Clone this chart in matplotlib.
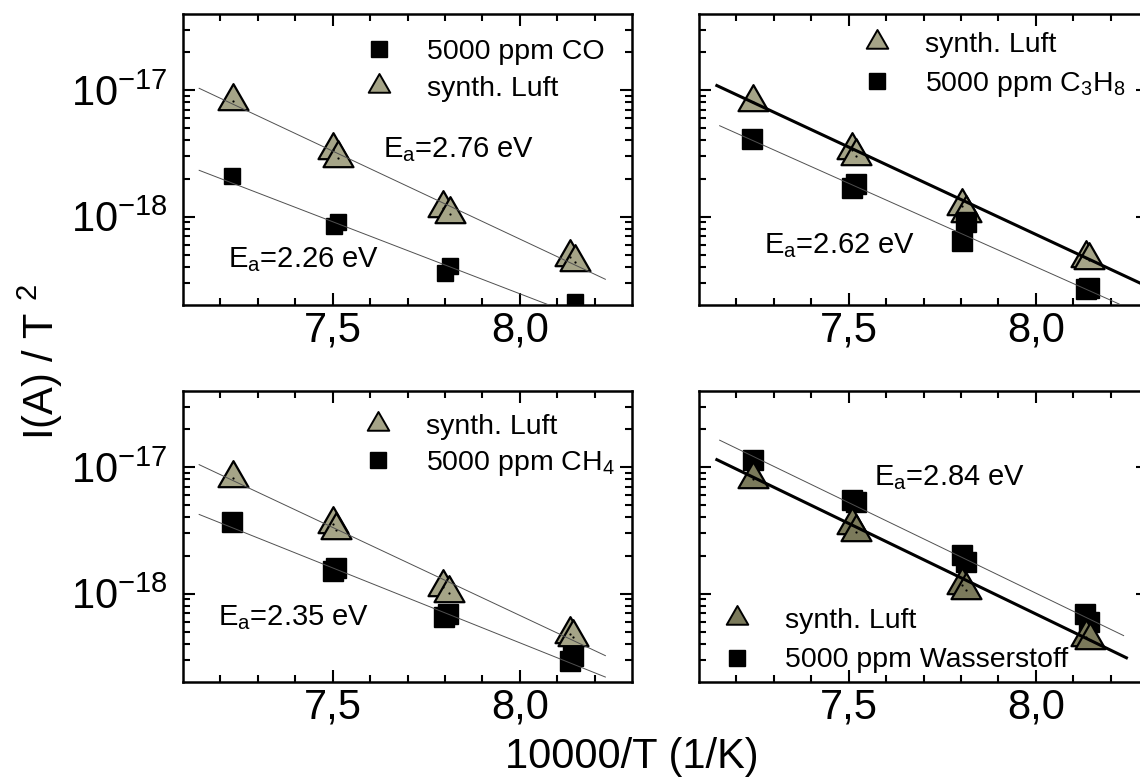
import numpy as np
import matplotlib
matplotlib.use("Agg")
import matplotlib.pyplot as plt
from matplotlib.ticker import MultipleLocator, FuncFormatter, FixedLocator, NullFormatter
from matplotlib.lines import Line2D
from matplotlib.path import Path

plt.rcParams['font.family'] = ['Liberation Sans', 'DejaVu Sans']
plt.rcParams['mathtext.fontset'] = 'custom'
plt.rcParams['mathtext.rm'] = 'Liberation Sans'
plt.rcParams['mathtext.it'] = 'Liberation Sans:italic'
plt.rcParams['mathtext.bf'] = 'Liberation Sans:bold'

# ---------------- measured data: x = 10000/T (1/K), y = I/T^2 ----------------
# panel 1: CO
co_x = [7.232, 7.503, 7.513, 7.799, 7.814, 8.148]
co_y = [2.09e-18, 8.45e-19, 9.1e-19, 3.6e-19, 4.05e-19, 2.1e-19]
luft1_x = [7.233, 7.500, 7.513, 7.796, 7.814, 8.133, 8.148]
luft1_y = [8.2e-18, 3.35e-18, 2.9e-18, 1.18e-18, 1.04e-18, 4.8e-19, 4.4e-19]

# panel 2: propane
c3h8_x = [7.241, 7.510, 7.520, 7.802, 7.814, 8.133, 8.142]
c3h8_y = [4.12e-18, 1.67e-18, 1.81e-18, 6.37e-19, 9.1e-19, 2.66e-19, 2.74e-19]
luft2_x = [7.243, 7.510, 7.520, 7.802, 7.814, 8.133, 8.142]
luft2_y = [8.0e-18, 3.35e-18, 3.0e-18, 1.21e-18, 1.07e-18, 4.7e-19, 4.5e-19]

# panel 3: methane
ch4_x = [7.230, 7.500, 7.510, 7.798, 7.808, 8.133, 8.143]
ch4_y = [3.7e-18, 1.51e-18, 1.6e-18, 6.5e-19, 6.95e-19, 2.95e-19, 3.2e-19]
luft3_x = [7.233, 7.500, 7.510, 7.796, 7.811, 8.133, 8.143]
luft3_y = [8.2e-18, 3.57e-18, 3.16e-18, 1.12e-18, 1.02e-18, 4.8e-19, 4.5e-19]

# panel 4: hydrogen
h2_x = [7.243, 7.510, 7.520, 7.802, 7.814, 8.132, 8.142]
h2_y = [1.13e-17, 5.46e-18, 5.3e-18, 2.01e-18, 1.78e-18, 6.95e-19, 5.97e-19]
luft4_x = [7.243, 7.510, 7.520, 7.802, 7.814, 8.133, 8.145]
luft4_y = [8.1e-18, 3.46e-18, 3.07e-18, 1.17e-18, 1.07e-18, 4.55e-19, 4.3e-19]

# Arrhenius fits: activation energy (eV), start/end of 10000/T, value at start
fit1_ea = [2.76, 2.26]
fit1_x = [(7.142, 8.23), (7.142, 8.23)]
fit1_y0 = [1.038e-17, 2.33e-18]
fit2_ea = [2.74, 2.62]
fit2_x = [(7.144, 8.35), (7.154, 8.224)]
fit2_y0 = [1.10e-17, 5.25e-18]
fit3_ea = [2.76, 2.35]
fit3_x = [(7.142, 8.23), (7.142, 8.23)]
fit3_y0 = [1.05e-17, 4.24e-18]
fit4_ea = [2.84, 2.84]
fit4_x = [(7.144, 8.246), (7.154, 8.236)]
fit4_y0 = [1.16e-17, 1.64e-17]

ea_labels = ["2.76 eV", "2.26 eV", "2.62 eV", "2.35 eV", "2.84 eV"]

# axis ticks
x_major = [7.5, 8.0]
x_minor = [7.2, 7.3, 7.4, 7.6, 7.7, 7.8, 7.9, 8.1, 8.2]
y_major = [1e-18, 1e-17]
y_minor = [3e-19, 4e-19, 5e-19, 6e-19, 7e-19, 8e-19, 9e-19,
           2e-18, 3e-18, 4e-18, 5e-18, 6e-18, 7e-18, 8e-18, 9e-18,
           2e-17, 3e-17]

# ---------------- style ----------------
W, H = 1140, 778
EV_PER_UNIT = np.log(10) * 8.617333e-5 * 1e4   # eV per unit slope of log10(I/T^2) vs 10000/T
TRI = Path([(0, 2/3), (-0.575, -1/3), (0.575, -1/3), (0, 2/3)], closed=True)
LUFT_LIGHT = '#a5a487'
LUFT_DARK = '#7b7a5b'
TICK_FS = 30
LEG_FS = 20.5
EA_FS = 21

fig = plt.figure(figsize=(W / 100, H / 100), dpi=100)


def rect(l, t, r, b):
    return [l / W, 1 - b / H, (r - l) / W, (b - t) / H]


def style_axes(ax, ylabels=True):
    ax.set_yscale('log')
    ax.set_xlim(7.1, 8.3)
    ax.set_ylim(2e-19, 4e-17)
    ax.xaxis.set_major_locator(FixedLocator(x_major))
    ax.xaxis.set_minor_locator(FixedLocator(x_minor))
    ax.xaxis.set_major_formatter(FuncFormatter(lambda v, _: f"{v:.1f}".replace('.', ',')))
    ax.yaxis.set_major_locator(FixedLocator(y_major))
    ax.yaxis.set_minor_locator(FixedLocator(y_minor))
    ax.yaxis.set_minor_formatter(NullFormatter())
    if ylabels:
        ax.yaxis.set_major_formatter(FuncFormatter(
            lambda v, _: r"$\mathregular{10^{%d}}$" % round(np.log10(v))))
    else:
        ax.yaxis.set_major_formatter(NullFormatter())
    for sp in ax.spines.values():
        sp.set_linewidth(1.8)
    ax.tick_params(which='both', direction='in', top=True, right=True, width=1.5)
    ax.tick_params(which='major', length=8.6, labelsize=TICK_FS)
    ax.tick_params(axis='x', which='major', pad=4)
    ax.tick_params(axis='y', which='major', pad=11)
    ax.tick_params(which='minor', length=5)


def draw_fits(ax, eas, xr, y0s, widths):
    for ea, (xa, xb), y0, lw in zip(eas, xr, y0s, widths):
        xs = np.array([xa, xb])
        ys = y0 * 10 ** (-(ea / EV_PER_UNIT) * (xs - xa))
        color = 'k' if lw > 1 else '#505050'
        ax.plot(xs, ys, color=color, lw=lw, zorder=5, solid_capstyle='butt')


def squares(ax, x, y, ms):
    ax.plot(x, y, ls='none', marker='s', ms=ms, mfc='k', mec='k', mew=1, zorder=3)


def triangles(ax, x, y, color):
    ax.plot(x, y, ls='none', marker=TRI, ms=25, mfc=color, mec='k', mew=1.6, zorder=3)
    ax.plot(x, y, ls='none', marker='o', ms=1.6, mfc='k', mec='k', mew=0, zorder=4)


def legend(ax, order, labels, tri_color, anchor, spacing):
    sq = Line2D([], [], ls='none', marker='s', ms=11, mfc='k', mec='k', mew=1)
    tr = Line2D([], [], ls='none', marker=TRI, ms=18, mfc=tri_color, mec='k', mew=1.4)
    handles = [sq if k == 's' else tr for k in order]
    ax.legend(handles, labels, loc='upper left', bbox_to_anchor=anchor, frameon=False,
              fontsize=LEG_FS, handlelength=1.0, handletextpad=1.18,
              labelspacing=spacing, borderpad=0, borderaxespad=0)


def ea_text(ax, x, y, val):
    ax.text(x, y, r"E$_\mathregular{a}$=" + val, transform=ax.transAxes,
            fontsize=EA_FS, ha='left', va='baseline')


# ---- panel 1: CO ----
ax1 = fig.add_axes(rect(183, 14, 632, 305))
style_axes(ax1)
squares(ax1, co_x, co_y, 11.5)
triangles(ax1, luft1_x, luft1_y, LUFT_LIGHT)
draw_fits(ax1, fit1_ea, fit1_x, fit1_y0, [0.7, 0.7])
legend(ax1, ['s', 't'], ["5000 ppm CO", "synth. Luft"], LUFT_LIGHT, (0.405, 0.914), 0.39)
ea_text(ax1, 0.445, 0.509, ea_labels[0])
ea_text(ax1, 0.100, 0.131, ea_labels[1])

# ---- panel 2: C3H8 ----
ax2 = fig.add_axes(rect(699, 14, 1148, 305))
style_axes(ax2, ylabels=False)
triangles(ax2, luft2_x, luft2_y, LUFT_LIGHT)
squares(ax2, c3h8_x, c3h8_y, 15)
draw_fits(ax2, fit2_ea, fit2_x, fit2_y0, [2.2, 0.7])
legend(ax2, ['t', 's'], ["synth. Luft", r"5000 ppm C$_\mathregular{3}$H$_\mathregular{8}$"],
       LUFT_LIGHT, (0.364, 0.938), 0.435)
ea_text(ax2, 0.144, 0.178, ea_labels[2])

# ---- panel 3: CH4 ----
ax3 = fig.add_axes(rect(183, 391, 632, 682))
style_axes(ax3)
triangles(ax3, luft3_x, luft3_y, LUFT_LIGHT)
squares(ax3, ch4_x, ch4_y, 15)
draw_fits(ax3, fit3_ea, fit3_x, fit3_y0, [0.7, 0.7])
legend(ax3, ['t', 's'], ["synth. Luft", r"5000 ppm CH$_\mathregular{4}$"],
       LUFT_LIGHT, (0.4026, 0.921), 0.32)
ea_text(ax3, 0.078, 0.196, ea_labels[3])

# ---- panel 4: H2 ----
ax4 = fig.add_axes(rect(699, 391, 1148, 682))
style_axes(ax4, ylabels=False)
squares(ax4, h2_x, h2_y, 15)
triangles(ax4, luft4_x, luft4_y, LUFT_DARK)
draw_fits(ax4, fit4_ea, fit4_x, fit4_y0, [2.2, 0.7])
legend(ax4, ['t', 's'], ["synth. Luft", "5000 ppm Wasserstoff"],
       LUFT_DARK, (0.0529, 0.254), 0.47)
ea_text(ax4, 0.390, 0.677, ea_labels[4])

# ---- shared axis titles ----
fig.text(40 / W, 1 - 362 / H, r"I(A) / T $^\mathregular{2}$", rotation=90,
         fontsize=30, ha='center', va='center')
fig.text(632 / W, 1 - 757 / H, "10000/T (1/K)", fontsize=30, ha='center', va='center')

fig.savefig("out.png", dpi=100)
